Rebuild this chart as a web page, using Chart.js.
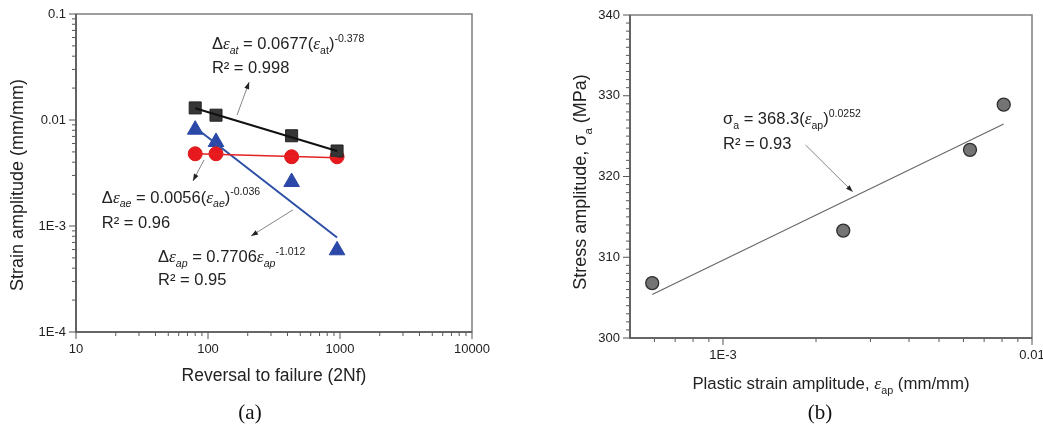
<!DOCTYPE html>
<html lang="en">
  <head>
    <meta charset="UTF-8" />
    <title>Strain-life and cyclic stress-strain curves</title>
    <script src="https://cdn.jsdelivr.net/npm/chart.js"></script>
    <style>
      body {
        margin: 0;
        background: #fff;
        overflow: hidden;
        width: 1043px;
        height: 430px;
        position: relative;
      }
      .panel {
        position: absolute;
        top: 0;
        height: 430px;
      }
      #panelA { left: 0; width: 520px; }
      #panelB { left: 520px; width: 540px; }
    </style>
  </head>
  <body>
    <div class="panel" id="panelA"><canvas id="chartA" width="520" height="430"></canvas></div>
    <div class="panel" id="panelB"><canvas id="chartB" width="540" height="430"></canvas></div>
    <script>
      // (a) strain amplitude vs reversals to failure
      const reversals = [80, 115, 430, 950];
      const totalStrain = [0.0130, 0.0111, 0.0071, 0.0051];
      const elasticStrain = [0.0048, 0.0048, 0.0045, 0.0045];
      const plasticStrain = [0.0081, 0.0062, 0.0026, 0.00059];

      // fitted power-law lines (end points)
      const fitReversals = [80, 950];
      const totalFit = [0.0129, 0.0051];
      const elasticFit = [0.0048, 0.0044];
      const plasticFit = [0.0085, 0.00078];

      // (b) stress amplitude vs plastic strain amplitude
      const plasticAmp = [0.00059, 0.00245, 0.0063, 0.0081];
      const stressAmp = [306.8, 313.3, 323.3, 328.9];
      const stressFitX = [0.00059, 0.0081];
      const stressFitY = [305.4, 326.5];

      // tick values and labels
      const aXTicks = [10, 100, 1000, 10000];
      const aXLabels = ["10", "100", "1000", "10000"];
      const aYTicks = [0.0001, 0.001, 0.01, 0.1];
      const aYLabels = ["1E-4", "1E-3", "0.01", "0.1"];
      const bXTicks = [0.001, 0.01];
      const bXLabels = ["1E-3", "0.01"];
      const bYTicks = [300, 310, 320, 330, 340];
      const bYLabels = ["300", "310", "320", "330", "340"];

      const SANS = '"Liberation Sans", Arial, sans-serif';
      const SERIF = '"Liberation Serif", "Times New Roman", serif';
      Chart.defaults.font.family = SANS;
      Chart.defaults.color = "#222";

      const pts = (xs, ys) => xs.map((x, i) => ({ x: x, y: ys[i] }));

      function logMinors(min, max) {
        const out = [];
        for (let e = Math.floor(Math.log10(min)); e < Math.ceil(Math.log10(max)); e++) {
          for (let k = 2; k <= 9; k++) {
            const v = k * Math.pow(10, e);
            if (v > min * 1.0001 && v < max * 0.9999) out.push(v);
          }
        }
        return out;
      }

      // text with italic / sub / superscript pieces
      function drawRich(ctx, parts, x, y, size, align) {
        let total = 0;
        const items = parts.map(([text, kind]) => {
          const small = kind === "sub" || kind === "isub" || kind === "sup";
          const sz = small ? size * 0.64 : size;
          let font = sz + "px " + SANS;
          if (kind === "i") font = "italic " + (size * 1.05) + "px " + SERIF;
          if (kind === "isub") font = "italic " + sz + "px " + SANS;
          ctx.font = font;
          const w = ctx.measureText(text).width;
          let dy = 0;
          if (kind === "sub" || kind === "isub") dy = size * 0.28;
          if (kind === "sup") dy = -size * 0.45;
          total += w;
          return { text, font, w, dy };
        });
        let cx = align === "center" ? x - total / 2 : x;
        ctx.textAlign = "left";
        ctx.textBaseline = "alphabetic";
        const base = y + size * 0.36;
        items.forEach((it) => {
          ctx.font = it.font;
          ctx.fillText(it.text, cx, base + it.dy);
          cx += it.w;
        });
      }

      function arrow(ctx, x1, y1, x2, y2) {
        const a = Math.atan2(y2 - y1, x2 - x1);
        ctx.save();
        ctx.strokeStyle = "#666";
        ctx.lineWidth = 0.8;
        ctx.beginPath();
        ctx.moveTo(x1, y1);
        ctx.lineTo(x2, y2);
        ctx.stroke();
        ctx.fillStyle = "#222";
        ctx.beginPath();
        ctx.moveTo(x2, y2);
        ctx.lineTo(x2 - 7 * Math.cos(a) + 2.5 * Math.sin(a), y2 - 7 * Math.sin(a) - 2.5 * Math.cos(a));
        ctx.lineTo(x2 - 7 * Math.cos(a) - 2.5 * Math.sin(a), y2 - 7 * Math.sin(a) + 2.5 * Math.cos(a));
        ctx.closePath();
        ctx.fill();
        ctx.restore();
      }

      // frame, tick marks, axis titles and notes
      function framePlugin(cfg) {
        return {
          id: "frame" + cfg.name,
          beforeDatasetsDraw(chart) {
            const ctx = chart.ctx;
            const a = chart.chartArea;
            const xs = chart.scales.x;
            const ys = chart.scales.y;
            ctx.save();
            ctx.strokeStyle = "#555";
            ctx.lineWidth = 1;
            cfg.xMajor.forEach((v) => {
              const p = xs.getPixelForValue(v);
              ctx.beginPath(); ctx.moveTo(p, a.bottom); ctx.lineTo(p, a.bottom + 7); ctx.stroke();
            });
            cfg.xMinor.forEach((v) => {
              const p = xs.getPixelForValue(v);
              ctx.beginPath(); ctx.moveTo(p, a.bottom); ctx.lineTo(p, a.bottom + 4); ctx.stroke();
            });
            cfg.yMajor.forEach((v) => {
              const p = ys.getPixelForValue(v);
              ctx.beginPath(); ctx.moveTo(a.left, p); ctx.lineTo(a.left - 7, p); ctx.stroke();
            });
            cfg.yMinor.forEach((v) => {
              const p = ys.getPixelForValue(v);
              ctx.beginPath(); ctx.moveTo(a.left, p); ctx.lineTo(a.left - 4, p); ctx.stroke();
            });
            ctx.strokeStyle = "#858585";
            ctx.lineWidth = 1.6;
            ctx.strokeRect(a.left, a.top, a.right - a.left, a.bottom - a.top);
            ctx.strokeStyle = "#555";
            ctx.beginPath();
            ctx.moveTo(a.left, a.top); ctx.lineTo(a.left, a.bottom); ctx.lineTo(a.right, a.bottom);
            ctx.stroke();
            ctx.restore();
          },
          afterDraw(chart) {
            const ctx = chart.ctx;
            const xs = chart.scales.x;
            const ys = chart.scales.y;
            ctx.save();
            ctx.fillStyle = "#222";
            drawRich(ctx, cfg.xTitle, cfg.xTitlePos[0], cfg.xTitlePos[1], cfg.xTitleSize, "center");
            ctx.save();
            ctx.translate(cfg.yTitlePos[0], cfg.yTitlePos[1]);
            ctx.rotate(-Math.PI / 2);
            drawRich(ctx, cfg.yTitle, 0, 0, 18, "center");
            ctx.restore();
            ctx.font = "21px " + SERIF;
            ctx.textAlign = "center";
            ctx.textBaseline = "middle";
            ctx.fillStyle = "#111";
            ctx.fillText(cfg.tag, cfg.tagPos[0], cfg.tagPos[1]);
            ctx.fillStyle = "#222";
            cfg.notes.forEach((n) => {
              drawRich(ctx, n.parts, xs.getPixelForValue(n.at[0]), ys.getPixelForValue(n.at[1]), 16.5, "left");
            });
            cfg.arrows.forEach((r) => {
              arrow(ctx,
                xs.getPixelForValue(r[0][0]), ys.getPixelForValue(r[0][1]),
                xs.getPixelForValue(r[1][0]), ys.getPixelForValue(r[1][1]));
            });
            ctx.restore();
          },
        };
      }

      function axis(type, min, max, ticks, labels, fit) {
        return {
          type: type,
          min: min,
          max: max,
          afterBuildTicks: (s) => { s.ticks = ticks.map((v) => ({ value: v })); },
          afterFit: fit,
          ticks: {
            autoSkip: false,
            maxRotation: 0,
            padding: 3,
            color: "#222",
            font: { size: 13 },
            callback: (v, i) => labels[i],
          },
          grid: { display: false, drawTicks: true, tickLength: 7 },
          border: { display: false },
        };
      }

      const commonOpts = {
        responsive: false,
        animation: false,
        events: [],
        plugins: { legend: { display: false }, tooltip: { enabled: false } },
      };

      // ---------- panel (a)
      new Chart(document.getElementById("chartA"), {
        type: "scatter",
        data: {
          datasets: [
            { data: pts(fitReversals, totalFit), showLine: true, borderColor: "#111", borderWidth: 2, pointRadius: 0 },
            { data: pts(fitReversals, elasticFit), showLine: true, borderColor: "#e52222", borderWidth: 1.5, pointRadius: 0 },
            { data: pts(fitReversals, plasticFit), showLine: true, borderColor: "#2d4ea6", borderWidth: 2, pointRadius: 0 },
            { data: pts(reversals, totalStrain), pointStyle: "rect", pointRadius: 8.5, backgroundColor: "#363636", borderColor: "#222", borderWidth: 1 },
            { data: pts(reversals, elasticStrain), pointStyle: "circle", pointRadius: 7, backgroundColor: "#e8191e", borderColor: "#d81818", borderWidth: 1 },
            { data: pts(reversals, plasticStrain), pointStyle: "triangle", pointRadius: 9, backgroundColor: "#2b48a8", borderColor: "#2b48a8", borderWidth: 1 },
          ],
        },
        options: {
          ...commonOpts,
          layout: { padding: { left: 0, right: 48, top: 14, bottom: 0 } },
          scales: {
            x: axis("logarithmic", 10, 10000, aXTicks, aXLabels, (s) => { s.height = 98; }),
            y: axis("logarithmic", 0.0001, 0.1, aYTicks, aYLabels, (s) => { s.width = 76; }),
          },
        },
        plugins: [framePlugin({
          name: "A",
          xMajor: aXTicks, xMinor: logMinors(10, 10000),
          yMajor: aYTicks, yMinor: logMinors(0.0001, 0.1),
          xTitle: [["Reversal to failure (2Nf)", "n"]], xTitlePos: [274, 375], xTitleSize: 17.5,
          yTitle: [["Strain amplitude (mm/mm)", "n"]], yTitlePos: [17, 185],
          tag: "(a)", tagPos: [250, 413],
          notes: [
            { at: [107, 0.0532], parts: [["Δ", "n"], ["ε", "i"], ["at", "isub"], [" = 0.0677(", "n"], ["ε", "i"], ["at", "sub"], [")", "n"], ["-0.378", "sup"]] },
            { at: [107, 0.0316], parts: [["R² = 0.998", "n"]] },
            { at: [15.7, 0.00188], parts: [["Δ", "n"], ["ε", "i"], ["ae", "isub"], [" = 0.0056(", "n"], ["ε", "i"], ["ae", "isub"], [")", "n"], ["-0.036", "sup"]] },
            { at: [15.7, 0.00109], parts: [["R² = 0.96", "n"]] },
            { at: [41.8, 0.000521], parts: [["Δ", "n"], ["ε", "i"], ["ap", "isub"], [" = 0.7706", "n"], ["ε", "i"], ["ap", "isub"], ["-1.012", "sup"]] },
            { at: [41.8, 0.000316], parts: [["R² = 0.95", "n"]] },
          ],
          arrows: [
            [[166, 0.01114], [205, 0.0228]],
            [[93.3, 0.0042], [76.9, 0.00266]],
            [[440, 0.00142], [212, 0.000805]],
          ],
        })],
      });

      // ---------- panel (b)
      const bYMinor = [];
      for (let v = 301; v < 340; v++) if (v % 10 !== 0) bYMinor.push(v);

      new Chart(document.getElementById("chartB"), {
        type: "scatter",
        data: {
          datasets: [
            { data: pts(stressFitX, stressFitY), showLine: true, borderColor: "#666", borderWidth: 1.1, pointRadius: 0 },
            { data: pts(plasticAmp, stressAmp), pointStyle: "circle", pointRadius: 6.5, backgroundColor: "#747474", borderColor: "#2e2e2e", borderWidth: 1.3 },
          ],
        },
        options: {
          ...commonOpts,
          layout: { padding: { left: 0, right: 28, top: 15, bottom: 0 } },
          scales: {
            x: axis("logarithmic", 0.0005, 0.01, bXTicks, bXLabels, (s) => { s.height = 92; }),
            y: axis("linear", 300, 340, bYTicks, bYLabels, (s) => { s.width = 110; }),
          },
        },
        plugins: [framePlugin({
          name: "B",
          xMajor: bXTicks, xMinor: logMinors(0.0005, 0.01),
          yMajor: bYTicks, yMinor: bYMinor,
          xTitle: [["Plastic strain amplitude, ", "n"], ["ε", "i"], ["ap", "sub"], [" (mm/mm)", "n"]], xTitlePos: [311, 383], xTitleSize: 16.8,
          yTitle: [["Stress amplitude, σ", "n"], ["a", "sub"], [" (MPa)", "n"]], yTitlePos: [60, 182],
          tag: "(b)", tagPos: [300, 413],
          notes: [
            { at: [0.001, 327.2], parts: [["σ", "n"], ["a", "sub"], [" = 368.3(", "n"], ["ε", "i"], ["ap", "sub"], [")", "n"], ["0.0252", "sup"]] },
            { at: [0.001, 324.1], parts: [["R² = 0.93", "n"]] },
          ],
          arrows: [
            [[0.00185, 323.9], [0.00263, 318.1]],
          ],
        })],
      });
    </script>
  </body>
</html>
